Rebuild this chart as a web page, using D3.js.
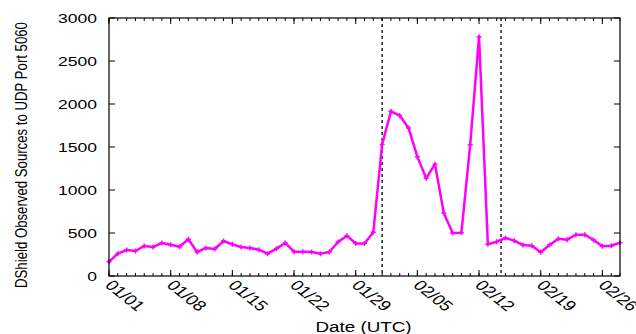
<!DOCTYPE html>
<html>
<head>
<meta charset="utf-8">
<script src="https://cdn.jsdelivr.net/npm/d3@7"></script>
<style>
  body { margin: 0; background: #fff; }
  text { font-family: "Liberation Sans", Arial, sans-serif; fill: #000; }
</style>
</head>
<body>
<div id="chart-area"></div>
<script>
// Daily observed sources, 01/01 .. 02/28
const startDate = "2018-01-01";
const sources = [
  165, 260, 302, 291, 349, 337, 384, 364, 341, 427,
  279, 326, 314, 407, 368, 337, 326, 306, 260, 318,
  384, 283, 283, 279, 260, 279, 395, 469, 378, 378,
  508, 1530, 1915, 1866, 1720, 1388, 1136, 1300, 732, 500,
  504, 1527, 2783, 370, 399, 442, 411, 360, 352, 277,
  360, 434, 422, 480, 480, 419, 345, 352, 387
];
const markerDates = ["2018-02-01T00:00", "2018-02-14T12:00"];
const yTicks = [0, 500, 1000, 1500, 2000, 2500, 3000];
const xTickLabels = ["01/01", "01/08", "01/15", "01/22", "01/29", "02/05", "02/12", "02/19", "02/26"];
const yLabel = "DShield Observed Sources to UDP Port 5060";
const xLabel = "Date (UTC)";

(function () {
  const W = 636, H = 334;
  const margin = { top: 18, right: 16, bottom: 58, left: 109 };
  const width = W - margin.left - margin.right;
  const height = H - margin.top - margin.bottom;
  const sx = 1.3; // text in the picture is stretched horizontally

  const parse = d3.utcParse("%Y-%m-%d");
  const parseT = d3.utcParse("%Y-%m-%dT%H:%M");
  const t0 = parse(startDate);
  const data = sources.map((v, i) => ({ date: d3.utcDay.offset(t0, i), value: v }));

  const svg = d3.select("#chart-area").append("svg")
    .attr("width", W).attr("height", H);
  const g = svg.append("g").attr("transform", `translate(${margin.left},${margin.top})`);

  const x = d3.scaleUtc()
    .domain([t0, data[data.length - 1].date])
    .range([0, width]);
  const y = d3.scaleLinear().domain([0, 3000]).range([height, 0]);

  const majorDates = xTickLabels.map((_, i) => d3.utcDay.offset(t0, i * 7));
  const minorDates = d3.utcDay.range(t0, d3.utcDay.offset(x.domain()[1], 1));

  // minor ticks, bottom + top
  g.selectAll(".minor").data(minorDates).join("path")
    .attr("d", d => `M${x(d)},${height}v-3M${x(d)},0v3`)
    .attr("stroke", "#000").attr("stroke-width", 1);
  // major ticks
  g.selectAll(".major").data(majorDates).join("path")
    .attr("d", d => `M${x(d)},${height}v-6M${x(d)},0v6`)
    .attr("stroke", "#000").attr("stroke-width", 1);
  g.selectAll(".ytick").data(yTicks).join("path")
    .attr("d", d => `M0,${y(d)}h6M${width},${y(d)}h-6`)
    .attr("stroke", "#000").attr("stroke-width", 1);

  // y tick labels
  g.selectAll(".ylab").data(yTicks).join("text")
    .attr("text-anchor", "end")
    .attr("font-size", 13.5)
    .attr("transform", d => `translate(-12,${y(d) + 5}) scale(${sx},1)`)
    .text(d => d);

  // x tick labels, rotated
  g.selectAll(".xlab").data(majorDates).join("text")
    .attr("font-size", 14.5)
    .attr("transform", d => `translate(${x(d) - 5},${height + 10}) scale(${sx},1) rotate(46)`)
    .text((d, i) => xTickLabels[i]);

  // dashed markers
  g.selectAll(".vline").data(markerDates.map(parseT)).join("line")
    .attr("x1", d => x(d)).attr("x2", d => x(d))
    .attr("y1", 0).attr("y2", height)
    .attr("stroke", "#000").attr("stroke-width", 1.3)
    .attr("stroke-dasharray", "3,3");

  // series
  const line = d3.line().x(d => x(d.date)).y(d => y(d.value));
  g.append("path").datum(data)
    .attr("d", line)
    .attr("fill", "none")
    .attr("stroke", "#ff00ff")
    .attr("stroke-width", 2.5)
    .attr("stroke-linejoin", "round");

  g.selectAll(".pt").data(data).join("path")
    .attr("d", d => `M${x(d.date) - 2.5},${y(d.value)}h5M${x(d.date)},${y(d.value) - 2.5}v5`)
    .attr("stroke", "#ff00ff").attr("stroke-width", 1.5);

  // border
  g.append("rect").attr("width", width).attr("height", height)
    .attr("fill", "none").attr("stroke", "#000").attr("stroke-width", 1.2);

  // axis titles
  svg.append("text")
    .attr("text-anchor", "middle")
    .attr("font-size", 14.5)
    .attr("transform", `translate(${margin.left + width / 2 - 1},${H - 2}) scale(${sx},1)`)
    .text(xLabel);

  svg.append("text")
    .attr("text-anchor", "middle")
    .attr("font-size", 13.2)
    .attr("transform", `translate(27,${margin.top + height / 2 + 8}) scale(${sx},1) rotate(-90)`)
    .text(yLabel);
})();
</script>
</body>
</html>
